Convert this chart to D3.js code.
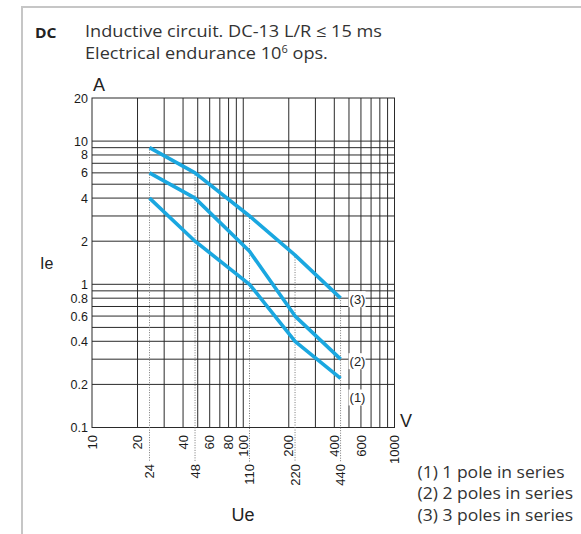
<!DOCTYPE html>
<html>
<head>
<meta charset="utf-8">
<script src="https://cdn.jsdelivr.net/npm/d3@7/dist/d3.min.js"></script>
<style>
  html, body { margin: 0; padding: 0; background: #fff; }
  svg { display: block; }
</style>
</head>
<body>
<svg id="chart" width="581" height="534"></svg>
<script>
// ---- data ----
const voltages = [24, 48, 110, 220, 440];
const series1 = [4, 2, 1, 0.4, 0.22];     // (1) 1 pole in series
const series2 = [6, 4, 1.7, 0.6, 0.3];    // (2) 2 poles in series
const series3 = [9, 6, 3, 1.6, 0.8];      // (3) 3 poles in series
const seriesNames = ["(1)", "(2)", "(3)"];
const legendLines = ["(1) 1 pole in series", "(2) 2 poles in series", "(3) 3 poles in series"];
const xTickLabels = [10, 20, 40, 60, 80, 100, 200, 400, 600, 1000];
const yTickLabels = [20, 10, 8, 6, 4, 2, 1, 0.8, 0.6, 0.4, 0.2, 0.1];
const xGrid = [20, 30, 40, 50, 60, 70, 80, 90, 100, 200, 300, 400, 500, 600, 700, 800, 900];
const yGrid = [10, 9, 8, 7, 6, 5, 4, 3, 2, 1, 0.9, 0.8, 0.7, 0.6, 0.5, 0.4, 0.3, 0.2];

const svg = d3.select("#chart");
const blue = "#1aa7e0";
const gridColor = "#2a2a2a";
const axisFont = "'Liberation Sans', Arial, sans-serif";
const textFont = "'Open Sans', 'Noto Sans', sans-serif";

// outer frame
svg.append("line").attr("x1", 21).attr("x2", 581).attr("y1", 7).attr("y2", 7)
  .attr("stroke", "#c6c6c6").attr("stroke-width", 2);
svg.append("line").attr("x1", 22).attr("x2", 22).attr("y1", 6).attr("y2", 534)
  .attr("stroke", "#c6c6c6").attr("stroke-width", 2);

// title
svg.append("text").attr("x", 35).attr("y", 38).attr("font-family", textFont)
  .attr("font-weight", "bold").attr("font-size", 15).attr("fill", "#222")
  .attr("textLength", 21.5).attr("lengthAdjust", "spacingAndGlyphs").text("DC");
const tg = svg.append("g").attr("transform", "translate(85,0) scale(1.1,1)");
tg.append("text").attr("x", 0).attr("y", 37.5).attr("font-family", textFont)
  .attr("font-size", 16.5).attr("fill", "#333")
  .text("Inductive circuit. DC-13 L/R \u2264 15 ms");
const t2 = tg.append("text").attr("x", 0).attr("y", 59.5).attr("font-family", textFont)
  .attr("font-size", 16.5).attr("fill", "#333");
t2.append("tspan").text("Electrical endurance 10");
t2.append("tspan").attr("font-size", 10).attr("dy", -6).text("6");
t2.append("tspan").attr("dy", 6).text(" ops.");

// scales
const x = d3.scaleLog().domain([10, 1000]).range([92, 394.5]);
const y = d3.scaleLog().domain([0.1, 20]).range([427.5, 98]);

// grid
const g = svg.append("g");
g.selectAll(".xg").data(xGrid).join("line")
  .attr("x1", d => x(d)).attr("x2", d => x(d))
  .attr("y1", y(20)).attr("y2", y(0.1))
  .attr("stroke", gridColor).attr("stroke-width", 1);
g.selectAll(".yg").data(yGrid).join("line")
  .attr("x1", x(10)).attr("x2", x(1000))
  .attr("y1", d => y(d)).attr("y2", d => y(d))
  .attr("stroke", gridColor).attr("stroke-width", 1);
// plot border
g.append("rect").attr("x", x(10)).attr("y", y(20))
  .attr("width", x(1000) - x(10)).attr("height", y(0.1) - y(20))
  .attr("fill", "none").attr("stroke", gridColor).attr("stroke-width", 1);

// dotted reference lines at rated voltages
const labelBottom = 462;
g.selectAll(".dot").data(voltages).join("line")
  .attr("x1", d => x(d)).attr("x2", d => x(d))
  .attr("y1", (d, i) => y(series3[i]) + 2).attr("y2", labelBottom)
  .attr("stroke", "#777").attr("stroke-width", 1).attr("stroke-dasharray", "1,1.5");

// curves
const line = d3.line().x(d => x(d[0])).y(d => y(d[1]));
const allSeries = [series1, series2, series3];
allSeries.forEach(s => {
  svg.append("path").datum(voltages.map((v, i) => [v, s[i]]))
    .attr("d", line).attr("fill", "none").attr("stroke", blue)
    .attr("stroke-width", 3.6).attr("stroke-linejoin", "round");
});

// curve labels with white background
const last = voltages.length - 1;
const labelY = [y(series1[last]) + 19, y(series2[last]) + 2, y(series3[last]) + 1];
seriesNames.forEach((n, i) => {
  const lx = x(voltages[last]) + 8, ly = labelY[i];
  svg.append("rect").attr("x", lx).attr("y", ly - 8).attr("width", 17).attr("height", 16).attr("fill", "#fff");
  svg.append("text").attr("x", lx + 1).attr("y", ly).attr("dy", "0.35em")
    .attr("font-family", axisFont).attr("font-size", 13).attr("fill", "#222").text(n);
});

// y tick labels
svg.selectAll(".yl").data(yTickLabels).join("text")
  .attr("x", 88).attr("y", d => y(d)).attr("dy", "0.36em")
  .attr("text-anchor", "end").attr("font-family", axisFont).attr("font-size", 12.5)
  .attr("fill", "#1a1a1a").text(d => d);

// x tick labels (rotated)
svg.selectAll(".xl").data(xTickLabels).join("text")
  .attr("transform", d => `translate(${x(d)},435) rotate(-90)`)
  .attr("dy", "0.36em").attr("text-anchor", "end")
  .attr("font-family", axisFont).attr("font-size", 13).attr("fill", "#1a1a1a").text(d => d);
svg.selectAll(".vl").data(voltages).join("text")
  .attr("transform", d => `translate(${x(d)},464) rotate(-90)`)
  .attr("dy", "0.36em").attr("text-anchor", "end")
  .attr("font-family", axisFont).attr("font-size", 13).attr("fill", "#1a1a1a").text(d => d);

// axis unit labels
svg.append("text").attr("x", 93).attr("y", 91).attr("font-family", axisFont)
  .attr("font-size", 18).attr("fill", "#222").text("A");
svg.append("text").attr("x", 400).attr("y", 427).attr("font-family", axisFont)
  .attr("font-size", 18).attr("fill", "#222").text("V");
svg.append("text").attr("x", 40).attr("y", 268.5).attr("font-family", axisFont)
  .attr("font-size", 16).attr("fill", "#222").text("Ie");
svg.append("text").attr("x", 243).attr("y", 521).attr("text-anchor", "middle").attr("font-family", axisFont)
  .attr("font-size", 18).attr("fill", "#222").text("Ue");

// legend
const legendWidths = [147, 155.5, 155.5];
svg.selectAll(".leg").data(legendLines).join("text")
  .attr("x", 417.5).attr("y", (d, i) => 477.5 + i * 21.7)
  .attr("font-family", textFont).attr("font-size", 16.5).attr("fill", "#333")
  .attr("textLength", (d, i) => legendWidths[i]).attr("lengthAdjust", "spacingAndGlyphs")
  .text(d => d);
</script>
</body>
</html>
